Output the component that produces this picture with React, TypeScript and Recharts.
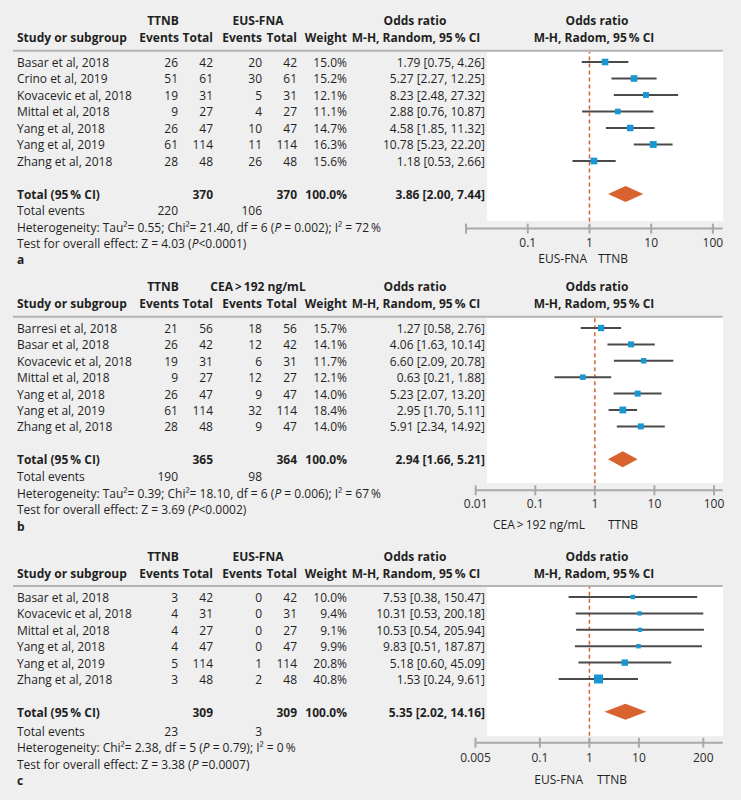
import React from "react";
import {
  ComposedChart,
  ErrorBar,
  ReferenceArea,
  ReferenceLine,
  Scatter,
  XAxis,
  YAxis,
} from "recharts";

const FONT = "'Open Sans', 'Noto Sans', sans-serif";
const FS = 12;
const INK = "#1f1f1f";
const AXIS = "#a9a9a9";
const BLUE = "#1997d2";
const ORANGE = "#d8632e";
const CI_COLOR = "#4a4a4a";
const PLOT_RIGHT = 722.7;
const BOX_LEFT = 486.7;

// a: TTNB vs EUS-FNA
const studiesA = ["Basar et al, 2018", "Crino et al, 2019", "Kovacevic et al, 2018", "Mittal et al, 2018", "Yang et al, 2018", "Yang et al, 2019", "Zhang et al, 2018"];
const ttnbEventsA = [26, 51, 19, 9, 26, 61, 28];
const ttnbTotalA = [42, 61, 31, 27, 47, 114, 48];
const fnaEventsA = [20, 30, 5, 4, 10, 11, 26];
const fnaTotalA = [42, 61, 31, 27, 47, 114, 48];
const weightA = [15.0, 15.2, 12.1, 11.1, 14.7, 16.3, 15.6];
const orA = [1.79, 5.27, 8.23, 2.88, 4.58, 10.78, 1.18];
const loA = [0.75, 2.27, 2.48, 0.76, 1.85, 5.23, 0.53];
const hiA = [4.26, 12.25, 27.32, 10.87, 11.32, 22.2, 2.66];
const totalsA = [370, 370, 220, 106]; // n TTNB, n comparator, events TTNB, events comparator
const pooledA = [3.86, 2.0, 7.44];
const hetA = ["Heterogeneity: Tau\u00b2= 0.55; Chi\u00b2= 21.40, df = 6 (", "P", " = 0.002); I\u00b2 = 72\u2009%"];
const testA = ["Test for overall effect: Z = 4.03 (", "P", "<0.0001)"];

// b: TTNB vs CEA > 192 ng/mL
const studiesB = ["Barresi et al, 2018", "Basar et al, 2018", "Kovacevic et al, 2018", "Mittal et al, 2018", "Yang et al, 2018", "Yang et al, 2019", "Zhang et al, 2018"];
const ttnbEventsB = [21, 26, 19, 9, 26, 61, 28];
const ttnbTotalB = [56, 42, 31, 27, 47, 114, 48];
const ceaEventsB = [18, 12, 6, 12, 9, 32, 9];
const ceaTotalB = [56, 42, 31, 27, 47, 114, 47];
const weightB = [15.7, 14.1, 11.7, 12.1, 14.0, 18.4, 14.0];
const orB = [1.27, 4.06, 6.6, 0.63, 5.23, 2.95, 5.91];
const loB = [0.58, 1.63, 2.09, 0.21, 2.07, 1.7, 2.34];
const hiB = [2.76, 10.14, 20.78, 1.88, 13.2, 5.11, 14.92];
const totalsB = [365, 364, 190, 98];
const pooledB = [2.94, 1.66, 5.21];
const hetB = ["Heterogeneity: Tau\u00b2= 0.39; Chi\u00b2= 18.10, df = 6 (", "P", " = 0.006); I\u00b2 = 67\u2009%"];
const testB = ["Test for overall effect: Z = 3.69 (", "P", "<0.0002)"];

// c: TTNB vs EUS-FNA, adverse events
const studiesC = ["Basar et al, 2018", "Kovacevic et al, 2018", "Mittal et al, 2018", "Yang et al, 2018", "Yang et al, 2019", "Zhang et al, 2018"];
const ttnbEventsC = [3, 4, 4, 4, 5, 3];
const ttnbTotalC = [42, 31, 27, 47, 114, 48];
const fnaEventsC = [0, 0, 0, 0, 1, 2];
const fnaTotalC = [42, 31, 27, 47, 114, 48];
const weightC = [10.0, 9.4, 9.1, 9.9, 20.8, 40.8];
const orC = [7.53, 10.31, 10.53, 9.83, 5.18, 1.53];
const loC = [0.38, 0.53, 0.54, 0.51, 0.6, 0.24];
const hiC = [150.47, 200.18, 205.94, 187.87, 45.09, 9.61];
const totalsC = [309, 309, 23, 3];
const pooledC = [5.35, 2.02, 14.16];
const hetC = ["Heterogeneity: Chi\u00b2= 2.38, df = 5 (", "P", " = 0.79); I\u00b2 = 0\u2009%"];
const testC = ["Test for overall effect: Z = 3.38 (", "P", " =0.0007)"];

const ticksAB = [0.01, 0.1, 1, 10, 100];
const ticksC = [0.005, 0.1, 1, 10, 200];

interface Geo {
  hdr1: number;
  hdr2: number;
  sep: number;
  plotTop: number;
  plotLeft: number;
  axisY: number;
  base0: number;
  rowH: number;
  foot0: number;
  footH: number;
  tickDy: number;
  legendY: number;
  legendL: number;
  legendR: number;
}

interface PanelProps {
  studies: string[];
  e1: number[];
  n1: number[];
  e2: number[];
  n2: number[];
  weight: number[];
  or: number[];
  lo: number[];
  hi: number[];
  totals: number[];
  pooled: number[];
  group2: string;
  het: string[];
  test: string[];
  letter: string;
  domain: [number, number];
  ticks: number[];
  hideFirstTick?: boolean;
  legendLeft: string;
  squareK: number;
  geo: Geo;
}

const fmt = (v: number) => v.toFixed(2);

const Segs = ({ parts }: { parts: string[] }) => (
  <>
    {parts.map((s, i) => (
      <tspan key={i} fontStyle={i % 2 === 1 ? "italic" : "normal"}>
        {s}
      </tspan>
    ))}
  </>
);

function ForestPanel(p: PanelProps) {
  const g = p.geo;
  const n = p.studies.length;
  const totalIdx = n + 1;
  const r0 = g.base0 - 5;
  const yDomain: [number, number] = [(g.plotTop - r0) / g.rowH, (g.axisY - r0) / g.rowH];
  const points = p.studies.map((s, i) => ({
    name: s,
    x: p.or[i],
    y: i,
    err: [p.or[i] - p.lo[i], p.hi[i] - p.or[i]],
    w: p.weight[i],
  }));
  const rowTicks = [...p.studies.map((_, i) => i), totalIdx];
  const txt = { fontFamily: FONT, fontSize: FS, fill: INK };

  const renderRow = (props: any) => {
    const i = props.payload.value as number;
    const y = props.y + 5;
    if (i === totalIdx) {
      return (
        <g {...txt} fontWeight={700}>
          <text x={17} y={y}>Total (95{"\u2009"}% CI)</text>
          <text x={213} y={y} textAnchor="end">{p.totals[0]}</text>
          <text x={297} y={y} textAnchor="end">{p.totals[1]}</text>
          <text x={347} y={y} textAnchor="end">100.0%</text>
          <text x={485} y={y} textAnchor="end">
            {`${fmt(p.pooled[0])} [${fmt(p.pooled[1])}, ${fmt(p.pooled[2])}]`}
          </text>
        </g>
      );
    }
    return (
      <g {...txt}>
        <text x={17} y={y}>{p.studies[i]}</text>
        <text x={178} y={y} textAnchor="end">{p.e1[i]}</text>
        <text x={213} y={y} textAnchor="end">{p.n1[i]}</text>
        <text x={262} y={y} textAnchor="end">{p.e2[i]}</text>
        <text x={297} y={y} textAnchor="end">{p.n2[i]}</text>
        <text x={347} y={y} textAnchor="end">{p.weight[i].toFixed(1)}%</text>
        <text x={485} y={y} textAnchor="end">
          {`${fmt(p.or[i])} [${fmt(p.lo[i])}, ${fmt(p.hi[i])}]`}
        </text>
      </g>
    );
  };

  const renderTick = (props: any) => {
    const v = props.payload.value as number;
    const label = p.hideFirstTick && v === p.ticks[0] ? "" : String(v);
    return (
      <g>
        <line x1={props.x} x2={props.x} y1={props.y - 5} y2={props.y + 5} stroke={AXIS} strokeWidth={2} />
        <text x={props.x} y={props.y + g.tickDy} textAnchor="middle" fontFamily={FONT} fontSize={FS} fill="#2a2a2a">
          {label}
        </text>
      </g>
    );
  };

  const renderSquare = (props: any) => {
    const s = p.squareK * Math.sqrt(props.payload.w);
    return <rect x={props.cx - s / 2} y={props.cy - s / 2} width={s} height={s} fill={BLUE} />;
  };

  const renderDiamond = (props: any) => {
    const { x, y, width, height } = props;
    const cx = x + width / 2;
    const cy = y + height / 2;
    return (
      <polygon
        points={`${x},${cy} ${cx},${y} ${x + width},${cy} ${cx},${y + height}`}
        fill={ORANGE}
      />
    );
  };

  return (
    <>
      <div
        style={{
          position: "absolute",
          left: BOX_LEFT,
          top: g.plotTop,
          width: PLOT_RIGHT - BOX_LEFT,
          height: g.axisY - 7 - g.plotTop,
          background: "#ffffff",
        }}
      />
      <div style={{ position: "absolute", left: 0, top: g.plotTop }}>
        <ComposedChart
          width={741}
          height={g.axisY - g.plotTop + 40}
          margin={{ top: 0, right: 741 - PLOT_RIGHT, bottom: 0, left: 0 }}
          data={points}
        >
          <XAxis
            type="number"
            dataKey="x"
            scale="log"
            domain={p.domain}
            ticks={p.ticks}
            interval={0}
            allowDataOverflow
            height={40}
            axisLine={{ stroke: AXIS, strokeWidth: 2 }}
            tickLine={false}
            tickSize={0}
            tickMargin={0}
            tick={renderTick}
          />
          <YAxis
            type="number"
            dataKey="y"
            domain={yDomain}
            reversed
            allowDataOverflow
            ticks={rowTicks}
            interval={0}
            width={g.plotLeft}
            axisLine={false}
            tickLine={false}
            tick={renderRow}
          />
          <ReferenceLine x={1} stroke={ORANGE} strokeDasharray="4 3" strokeWidth={1.5} />
          <ReferenceArea
            x1={p.pooled[1]}
            x2={p.pooled[2]}
            y1={totalIdx - 0.49}
            y2={totalIdx + 0.49}
            fill={ORANGE}
            fillOpacity={1}
            shape={renderDiamond}
          />
          <Scatter data={points} shape={renderSquare} isAnimationActive={false}>
            <ErrorBar dataKey="err" direction="x" width={0} stroke={CI_COLOR} strokeWidth={2} />
          </Scatter>
        </ComposedChart>
      </div>
      <svg
        width={741}
        height={800}
        style={{ position: "absolute", left: 0, top: 0, pointerEvents: "none" }}
      >
        <g {...txt} fontWeight={700}>
          <text x={163} y={g.hdr1} textAnchor="middle">TTNB</text>
          <text x={258} y={g.hdr1} textAnchor="middle">{p.group2}</text>
          <text x={415} y={g.hdr1} textAnchor="middle">Odds ratio</text>
          <text x={597} y={g.hdr1} textAnchor="middle">Odds ratio</text>
          <text x={17} y={g.hdr2}>Study or subgroup</text>
          <text x={179} y={g.hdr2} textAnchor="end">Events</text>
          <text x={213} y={g.hdr2} textAnchor="end">Total</text>
          <text x={262} y={g.hdr2} textAnchor="end">Events</text>
          <text x={297} y={g.hdr2} textAnchor="end">Total</text>
          <text x={347} y={g.hdr2} textAnchor="end">Weight</text>
          <text x={416} y={g.hdr2} textAnchor="middle">M-H, Random, 95{"\u2009"}% CI</text>
          <text x={594} y={g.hdr2} textAnchor="middle">M-H, Radom, 95{"\u2009"}% CI</text>
        </g>
        <line x1={13} x2={PLOT_RIGHT} y1={g.sep} y2={g.sep} stroke="#b4b4b4" strokeWidth={2} />
        <g {...txt}>
          <text x={17} y={g.foot0}>Total events</text>
          <text x={178} y={g.foot0} textAnchor="end">{p.totals[2]}</text>
          <text x={262} y={g.foot0} textAnchor="end">{p.totals[3]}</text>
          <text x={17} y={g.foot0 + g.footH}>
            <Segs parts={p.het} />
          </text>
          <text x={17} y={g.foot0 + 2 * g.footH}>
            <Segs parts={p.test} />
          </text>
          <text x={17} y={g.foot0 + 3 * g.footH} fontWeight={700}>{p.letter}</text>
          <text x={g.legendL} y={g.legendY} textAnchor="end">{p.legendLeft}</text>
          <text x={g.legendR} y={g.legendY}>TTNB</text>
        </g>
      </svg>
    </>
  );
}

const geoA: Geo = {
  hdr1: 25.4, hdr2: 42, sep: 50.7, plotTop: 51.7, plotLeft: 466, axisY: 228.3,
  base0: 66.7, rowH: 16.5, foot0: 215.2, footH: 16.4, tickDy: 18, legendY: 263.2,
  legendL: 587, legendR: 598,
};
const geoB: Geo = {
  hdr1: 291.4, hdr2: 308, sep: 316.7, plotTop: 317.7, plotLeft: 475.7, axisY: 490,
  base0: 332.7, rowH: 16.4, foot0: 481, footH: 16.5, tickDy: 17.3, legendY: 529,
  legendL: 585, legendR: 608,
};
const geoC: Geo = {
  hdr1: 561, hdr2: 577.7, sep: 586, plotTop: 587, plotLeft: 475.5, axisY: 742.7,
  base0: 602, rowH: 16.4, foot0: 735.5, footH: 16.5, tickDy: 19.6, legendY: 783.5,
  legendL: 583, legendR: 597,
};

export default function App() {
  return (
    <div
      style={{
        position: "absolute",
        left: 0,
        top: 0,
        width: 741,
        height: 800,
        background: "#efefef",
        overflow: "hidden",
      }}
    >
      <ForestPanel
        studies={studiesA} e1={ttnbEventsA} n1={ttnbTotalA} e2={fnaEventsA} n2={fnaTotalA}
        weight={weightA} or={orA} lo={loA} hi={hiA} totals={totalsA} pooled={pooledA}
        group2="EUS-FNA" het={hetA} test={testA} letter="a"
        domain={[0.01, 144]} ticks={ticksAB} hideFirstTick legendLeft="EUS-FNA" squareK={1.7} geo={geoA}
      />
      <ForestPanel
        studies={studiesB} e1={ttnbEventsB} n1={ttnbTotalB} e2={ceaEventsB} n2={ceaTotalB}
        weight={weightB} or={orB} lo={loB} hi={hiB} totals={totalsB} pooled={pooledB}
        group2={"CEA\u2009>\u2009192 ng/mL"} het={hetB} test={testB} letter="b"
        domain={[0.01, 140]} ticks={ticksAB} legendLeft={"CEA\u2009>\u2009192 ng/mL"} squareK={1.6} geo={geoB}
      />
      <ForestPanel
        studies={studiesC} e1={ttnbEventsC} n1={ttnbTotalC} e2={fnaEventsC} n2={fnaTotalC}
        weight={weightC} or={orC} lo={loC} hi={hiC} totals={totalsC} pooled={pooledC}
        group2="EUS-FNA" het={hetC} test={testC} letter="c"
        domain={[0.005, 493]} ticks={ticksC} legendLeft="EUS-FNA" squareK={1.41} geo={geoC}
      />
    </div>
  );
}
